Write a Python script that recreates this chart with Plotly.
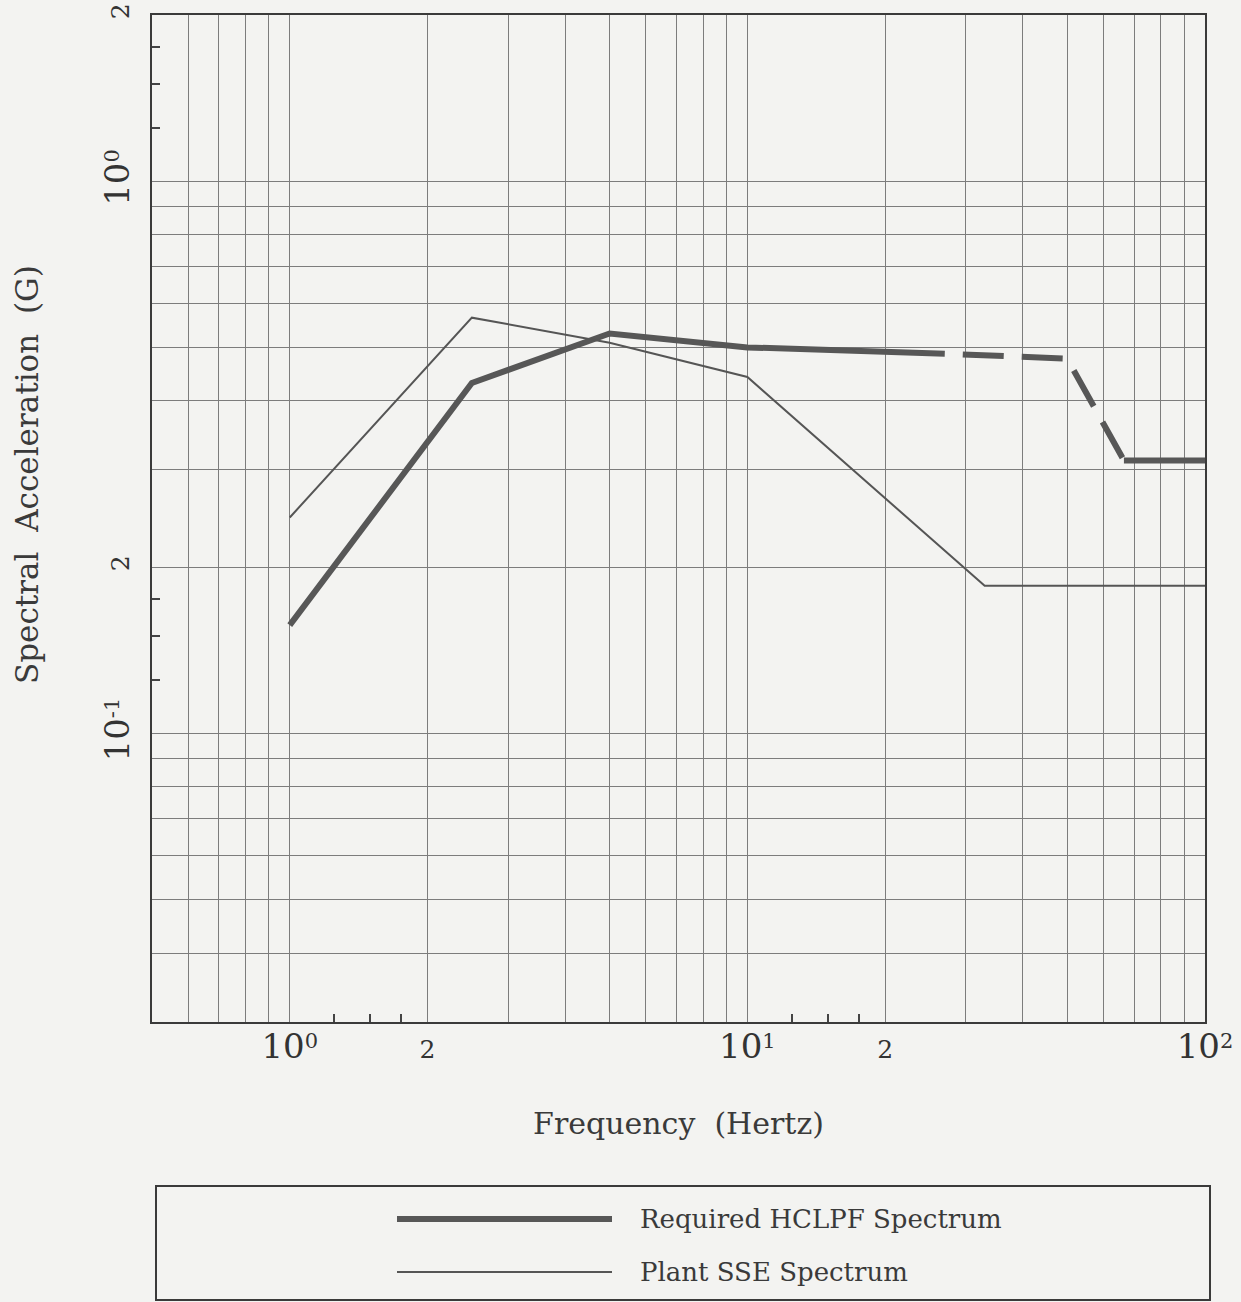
import plotly.graph_objects as go
import math

# ---------------- data ----------------
# Required HCLPF spectrum: solid part, dashed part, solid tail
hclpf_solid_freq = [1.0, 2.5, 5.0, 10.0, 27.0]
hclpf_solid_acc = [0.157, 0.431, 0.530, 0.500, 0.487]
hclpf_dash_freq = [27.0, 50.0, 66.5]
hclpf_dash_acc = [0.487, 0.477, 0.312]
hclpf_tail_freq = [66.5, 100.0]
hclpf_tail_acc = [0.312, 0.312]

# Plant SSE spectrum
sse_freq = [1.0, 2.5, 5.0, 10.0, 33.0, 100.0]
sse_acc = [0.246, 0.566, 0.510, 0.442, 0.185, 0.185]

# axis ticks / grid
BIG = "<span style='font-size:34px'>10</span>"
x_label_vals = [1, 2, 10, 20, 100]
x_label_text = [BIG + "<sup><span style='font-size:21px'>0</span></sup>", "2",
                BIG + "<sup><span style='font-size:21px'>1</span></sup>", "2",
                BIG + "<sup><span style='font-size:21px'>2</span></sup>"]
x_grid_vals = [0.6, 0.7, 0.8, 0.9, 3, 4, 5, 6, 7, 8, 9,
               30, 40, 50, 60, 70, 80, 90]
x_minor_vals = [1.25, 1.5, 1.75, 12.5, 15, 17.5]

y_label_vals = [0.1, 0.2, 1, 2]
y_label_text = [BIG + "<sup><span style='font-size:21px'>-1</span></sup>", "2",
                BIG + "<sup><span style='font-size:21px'>0</span></sup>", "2"]
y_grid_vals = [0.04, 0.05, 0.06, 0.07, 0.08, 0.09,
               0.3, 0.4, 0.5, 0.6, 0.7, 0.8, 0.9]
y_minor_vals = [0.125, 0.15, 0.175, 1.25, 1.5, 1.75]

legend_labels = ["Required HCLPF Spectrum", "Plant SSE Spectrum"]

# ---------------- styling ----------------
BG = "#f3f3f1"
THICK = "#575757"
THIN = "#555555"
GRID = "#7c7c7c"
AXIS = "#3a3a3a"
FONT = "DejaVu Serif"

fig = go.Figure()

fig.add_trace(go.Scatter(x=hclpf_solid_freq, y=hclpf_solid_acc, mode="lines",
                         line=dict(color=THICK, width=6), showlegend=False,
                         name=legend_labels[0]))
fig.add_trace(go.Scatter(x=hclpf_dash_freq, y=hclpf_dash_acc, mode="lines",
                         line=dict(color=THICK, width=6,
                                   dash="0px,18px,41px,0px"),
                         showlegend=False, name=legend_labels[0]))
fig.add_trace(go.Scatter(x=hclpf_tail_freq, y=hclpf_tail_acc, mode="lines",
                         line=dict(color=THICK, width=6), showlegend=False,
                         name=legend_labels[0]))
# the SSE curve sits on the overlay axes that carry the small inward ticks
fig.add_trace(go.Scatter(x=sse_freq, y=sse_acc, mode="lines",
                         xaxis="x2", yaxis="y2",
                         line=dict(color=THIN, width=2), showlegend=False,
                         name=legend_labels[1]))

x_range = [math.log10(0.5), 2]
y_range = [math.log10(0.03), math.log10(2)]

fig.update_layout(
    xaxis=dict(
        type="log", range=x_range, automargin=False,
        tickmode="array", tickvals=x_label_vals, ticktext=x_label_text,
        ticks="", ticklabelstandoff=4,
        tickfont=dict(family=FONT, size=25, color="#333"),
        showgrid=True, gridcolor=GRID, gridwidth=1,
        showline=True, linecolor=AXIS, linewidth=2, mirror=True,
        zeroline=False,
        minor=dict(tickmode="array", tickvals=x_grid_vals, ticks="",
                   showgrid=True, gridcolor=GRID, gridwidth=1),
        title=dict(text="Frequency  (Hertz)", standoff=48,
                   font=dict(family=FONT, size=30, color=AXIS)),
    ),
    yaxis=dict(
        type="log", range=y_range, automargin=False,
        tickmode="array", tickvals=y_label_vals, ticktext=y_label_text,
        ticks="", tickangle=-90, ticklabelstandoff=11,
        tickfont=dict(family=FONT, size=25, color="#333"),
        showgrid=True, gridcolor=GRID, gridwidth=1,
        showline=True, linecolor=AXIS, linewidth=2, mirror=True,
        zeroline=False,
        minor=dict(tickmode="array", tickvals=y_grid_vals, ticks="",
                   showgrid=True, gridcolor=GRID, gridwidth=1),
    ),
    # overlay axes carrying only the small inward ticks between 1 and 2
    xaxis2=dict(
        type="log", range=x_range, overlaying="x", anchor="y", side="bottom",
        tickmode="array", tickvals=x_minor_vals, ticks="inside", ticklen=8,
        tickwidth=1.5, tickcolor="#444", showticklabels=False,
        showgrid=False, showline=False, zeroline=False, automargin=False,
    ),
    yaxis2=dict(
        type="log", range=y_range, overlaying="y", anchor="x", side="left",
        tickmode="array", tickvals=y_minor_vals, ticks="inside", ticklen=8,
        tickwidth=1.5, tickcolor="#444", showticklabels=False,
        showgrid=False, showline=False, zeroline=False, automargin=False,
    ),
)

# plot area in pixels: x 152..1205, y 15..1022
W, H = 1241, 1302
L, R, T, B = 152, 1205, 15, 1022
pw, ph = R - L, B - T


def px_x(p):
    return (p - L) / pw


def px_y(p):
    return (B - p) / ph


annotations = [
    dict(text="Spectral  Acceleration  (G)", textangle=-90,
         x=px_x(27), y=px_y(475), xref="paper", yref="paper",
         showarrow=False, xanchor="center", yanchor="middle",
         font=dict(family=FONT, size=31, color=AXIS)),
]

shapes = [
    # legend box
    dict(type="rect", xref="paper", yref="paper",
         x0=px_x(156), x1=px_x(1210), y0=px_y(1186), y1=px_y(1300),
         line=dict(color=AXIS, width=2), fillcolor="rgba(0,0,0,0)"),
    # legend samples
    dict(type="line", xref="paper", yref="paper",
         x0=px_x(397), x1=px_x(612), y0=px_y(1219), y1=px_y(1219),
         line=dict(color=THICK, width=6)),
    dict(type="line", xref="paper", yref="paper",
         x0=px_x(397), x1=px_x(612), y0=px_y(1272), y1=px_y(1272),
         line=dict(color=THIN, width=2)),
]
for lbl, ypix in zip(legend_labels, [1219, 1272]):
    annotations.append(dict(text=lbl, x=px_x(638), y=px_y(ypix),
                            xref="paper", yref="paper", showarrow=False,
                            xanchor="left", yanchor="middle",
                            font=dict(family=FONT, size=26, color=AXIS)))

fig.update_layout(
    width=W, height=H,
    margin=dict(l=L, r=W - R, t=T, b=H - B, autoexpand=False),
    paper_bgcolor=BG, plot_bgcolor=BG,
    annotations=annotations, shapes=shapes,
    showlegend=False,
)

fig.write_html("out.html", config={"displayModeBar": False},
               post_script="document.body.style.margin='0';"
                           "document.body.style.overflow='hidden';")
